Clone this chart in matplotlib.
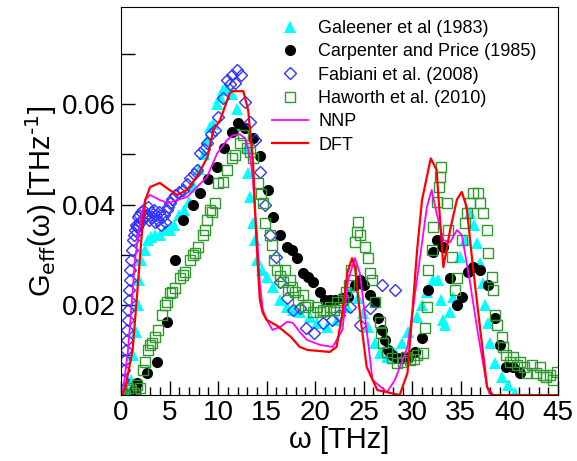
import matplotlib
matplotlib.use("Agg")
import matplotlib.pyplot as plt

plt.rcParams['font.family'] = ['Liberation Sans', 'DejaVu Sans']

# Galeener et al (1983)
gal_x = [0.2, 0.6, 1.0, 1.2, 1.5, 1.7, 1.85, 2.1, 2.5, 2.8, 3.1, 3.5, 4.0, 4.5, 5.0, 5.5, 6.0,
         6.5, 7.0, 7.5, 8.0, 8.5, 8.9, 9.2, 9.5, 9.9, 10.2, 10.5, 10.9, 11.4, 11.9, 12.4, 13.0,
         13.1, 13.3, 13.6, 13.8, 14.0, 14.5, 15.0, 15.7, 16.4, 17.1, 17.7, 18.4, 19.5, 20.2,
         21.2, 22.2, 23.3, 23.8, 24.4, 24.9, 25.4, 26.2, 26.7, 27.4, 28.2, 28.9, 29.6, 30.5,
         31.0, 31.5, 32.1, 32.6, 33.0, 33.2, 33.4, 33.9, 34.2, 34.9, 35.4, 35.9, 36.4, 36.7,
         37.0, 37.3, 37.5, 37.8, 38.0, 38.5, 39.2, 39.9, 40.6]
gal_y = [0.002, 0.003, 0.005, 0.010, 0.0145, 0.020, 0.025, 0.029, 0.031, 0.033, 0.0335, 0.034,
         0.034, 0.035, 0.035, 0.036, 0.038, 0.039, 0.0405, 0.0435, 0.047, 0.050, 0.0528, 0.0554,
         0.056, 0.060, 0.0614, 0.0628, 0.0632, 0.062, 0.059, 0.056, 0.0514, 0.0463, 0.0415,
         0.0363, 0.033, 0.029, 0.027, 0.0255, 0.0235, 0.021, 0.0196, 0.019, 0.0186, 0.0176,
         0.0164, 0.0156, 0.017, 0.0196, 0.0235, 0.0213, 0.0184, 0.0156, 0.0124, 0.0104, 0.0096,
         0.0104, 0.0124, 0.0146, 0.0176, 0.020, 0.0226, 0.025, 0.025, 0.021, 0.017, 0.016,
         0.0186, 0.0215, 0.0295, 0.0329, 0.0383, 0.036, 0.0323, 0.0283, 0.0243, 0.020, 0.0164,
         0.0124, 0.0084, 0.0056, 0.004, 0.0024]

# Carpenter and Price (1985)
car_x = [1.3, 1.6, 2.7, 3.7, 4.7, 5.6, 6.4, 7.4, 8.1, 9.0, 9.9, 10.6, 11.4, 12.1, 12.8, 13.6,
         14.3, 15.1, 15.7, 16.4, 17.1, 17.6, 18.1, 18.7, 19.3, 19.8, 20.5, 21.0, 21.5, 22.0,
         22.8, 23.4, 24.1, 24.6, 25.0, 25.6, 26.2, 26.5, 26.9, 27.2, 27.5, 27.9, 28.4, 28.9,
         29.6, 30.3, 31.0, 31.6, 32.1, 32.5, 33.2, 33.9, 34.6, 35.1, 35.7, 36.2, 37.0, 37.8,
         38.5, 39.0, 39.7, 40.4, 41.1]
car_y = [0.003, 0.0045, 0.0065, 0.0085, 0.0166, 0.029, 0.037, 0.040, 0.0423, 0.045, 0.0475,
         0.0512, 0.0544, 0.0562, 0.0552, 0.0532, 0.0496, 0.0429, 0.0375, 0.0339, 0.0315, 0.0309,
         0.0293, 0.0263, 0.0255, 0.0245, 0.0225, 0.021, 0.021, 0.021, 0.0213, 0.0216, 0.024,
         0.025, 0.024, 0.022, 0.0206, 0.0174, 0.015, 0.013, 0.011, 0.010, 0.0094, 0.0094, 0.0094,
         0.0106, 0.0134, 0.023, 0.0305, 0.0329, 0.0315, 0.0253, 0.020, 0.0216, 0.0265, 0.0275,
         0.027, 0.024, 0.0174, 0.012, 0.0076, 0.0076, 0.0064]

# Fabiani et al. (2008)
fab_x = [0.05, 0.15, 0.25, 0.35, 0.45, 0.5, 0.6, 0.65, 0.7, 0.75, 0.8, 0.85, 0.9, 0.95, 1.0,
         1.1, 1.2, 1.3, 1.4, 1.5, 1.6, 1.7, 1.8, 1.9, 2.0, 2.1, 2.2, 2.3, 2.45, 2.6, 2.75, 2.9,
         3.05, 3.2, 3.35, 3.5, 3.65, 3.8, 3.95, 4.1, 4.25, 4.4, 4.55, 4.7, 4.85, 5.0, 5.3, 5.6,
         6.0, 6.4, 6.8, 7.1, 7.5, 7.8, 8.1, 8.5, 8.9, 9.3, 9.7, 10.0, 10.5, 10.9, 11.2, 11.4,
         11.7, 11.9, 12.4, 12.8, 13.3, 13.8, 14.3, 14.8, 15.3, 16.0, 16.4, 17.1, 17.7, 18.4,
         19.1, 19.9, 20.8, 21.7, 22.5, 23.6, 24.6, 25.6, 26.9, 28.2]
fab_y = [0.001, 0.003, 0.005, 0.007, 0.009, 0.011, 0.013, 0.015, 0.017, 0.019, 0.021, 0.023,
         0.025, 0.027, 0.029, 0.031, 0.033, 0.034, 0.035, 0.036, 0.0355, 0.0375, 0.036, 0.038,
         0.0365, 0.0385, 0.037, 0.039, 0.0375, 0.038, 0.0395, 0.037, 0.0385, 0.0375, 0.039,
         0.0365, 0.038, 0.037, 0.0385, 0.036, 0.0375, 0.038, 0.0365, 0.039, 0.0395, 0.0403,
         0.041, 0.0419, 0.0425, 0.0429, 0.044, 0.0453, 0.046, 0.0469, 0.0502, 0.051, 0.0522,
         0.054, 0.0548, 0.0574, 0.0612, 0.0648, 0.064, 0.0658, 0.0642, 0.0668, 0.0658, 0.0604,
         0.0564, 0.0528, 0.0465, 0.0399, 0.0339, 0.0295, 0.0245, 0.0213, 0.019, 0.0194, 0.0154,
         0.0144, 0.0164, 0.017, 0.018, 0.0196, 0.016, 0.0194, 0.024, 0.023]

# Haworth et al. (2010)
haw_x = [0.4, 0.7, 1.0, 1.3, 1.6, 2.0, 2.3, 2.5, 2.8, 3.0, 3.2, 3.5, 3.8, 4.2, 4.5, 4.7, 5.0,
         5.3, 5.6, 6.1, 6.4, 6.6, 7.1, 7.4, 7.6, 7.9, 8.4, 8.7, 8.9, 9.2, 9.4, 9.7, 10.0, 10.5,
         10.9, 11.4, 11.7, 12.25, 12.6, 13.0, 13.3, 13.6, 14.1, 14.4, 14.6, 14.8, 15.3, 15.5,
         15.8, 16.1, 16.4, 16.7, 16.9, 17.2, 17.4, 17.6, 17.9, 18.2, 18.7, 19.0, 19.3, 19.8,
         20.2, 20.5, 20.8, 21.1, 21.5, 21.9, 22.2, 22.6, 22.9, 23.2, 23.5, 23.7, 24.1, 24.3,
         24.4, 24.6, 25.1, 25.4, 25.6, 25.9, 26.2, 26.7, 26.8, 27.0, 27.4, 27.9, 28.4, 29.0,
         29.4, 29.8, 30.2, 30.5, 31.1, 31.3, 31.5, 31.6, 32.0, 32.1, 32.5, 32.8, 32.9, 33.0,
         33.6, 33.7, 34.1, 34.4, 34.6, 35.1, 35.4, 35.6, 35.9, 36.2, 36.8, 37.0, 37.3, 37.7,
         37.8, 38.2, 38.3, 38.5, 38.7, 39.2, 39.3, 39.7, 40.1, 40.4, 40.8, 41.1, 41.5, 41.8,
         42.3, 42.7, 43.1, 43.5, 43.8, 44.2, 44.5, 44.9]
haw_y = [0.002, 0.0035, 0.003, 0.0025, 0.004, 0.0034, 0.007, 0.0085, 0.011, 0.012, 0.0124,
         0.0135, 0.015, 0.018, 0.020, 0.0205, 0.0223, 0.0225, 0.0233, 0.0253, 0.026, 0.0265,
         0.029, 0.030, 0.0303, 0.0315, 0.0339, 0.035, 0.0369, 0.0389, 0.0385, 0.0403, 0.0443,
         0.0445, 0.0469, 0.0492, 0.0498, 0.0522, 0.0538, 0.0512, 0.0505, 0.0492, 0.0443, 0.042,
         0.0403, 0.0363, 0.034, 0.032, 0.029, 0.027, 0.0257, 0.0245, 0.027, 0.023, 0.025, 0.0235,
         0.0225, 0.021, 0.022, 0.0195, 0.020, 0.0186, 0.0195, 0.0185, 0.019, 0.0188, 0.0196,
         0.019, 0.0205, 0.0195, 0.021, 0.0225, 0.024, 0.027, 0.0325, 0.0345, 0.0365, 0.0339,
         0.0315, 0.0293, 0.0263, 0.025, 0.0205, 0.0166, 0.0144, 0.0124, 0.0106, 0.0094, 0.0084,
         0.0086, 0.0095, 0.009, 0.0092, 0.010, 0.0104, 0.0154, 0.0196, 0.027, 0.0309, 0.0355,
         0.0405, 0.0435, 0.0455, 0.0475, 0.0403, 0.0349, 0.0295, 0.023, 0.0253, 0.0329, 0.0363,
         0.0383, 0.0403, 0.0423, 0.0423, 0.0403, 0.0383, 0.0349, 0.0303, 0.0255, 0.023, 0.018,
         0.016, 0.0136, 0.0116, 0.010, 0.0085, 0.0096, 0.008, 0.0086, 0.0075, 0.0064, 0.008,
         0.0065, 0.0076, 0.006, 0.0056, 0.006, 0.005, 0.0066]

# NNP
nnp_x = [0.0, 0.2, 0.72, 1.13, 1.44, 1.96, 2.47, 2.99, 4.0, 4.84, 5.77, 6.8, 7.83, 8.86, 9.9,
         10.9, 11.5, 12.25, 12.8, 13.3, 13.6, 13.8, 14.0, 14.3, 14.6, 15.0, 15.6, 16.4, 17.1,
         17.7, 18.4, 19.15, 20.5, 21.8, 22.8, 23.4, 24.1, 24.6, 25.3, 25.9, 27.4, 28.2, 29.5,
         30.1, 30.8, 31.5, 32.0, 32.5, 33.2, 33.9, 34.6, 35.1, 35.9, 36.7, 37.7, 38.0, 45.0]
nnp_y = [0.002, 0.0025, 0.011, 0.0209, 0.0289, 0.0363, 0.0409, 0.0419, 0.0409, 0.0403, 0.0409,
         0.0415, 0.0435, 0.0455, 0.0502, 0.0528, 0.0538, 0.054, 0.0532, 0.0494, 0.0449, 0.0383,
         0.0343, 0.0243, 0.019, 0.017, 0.015, 0.0156, 0.0166, 0.0164, 0.0146, 0.013, 0.012, 0.0116,
         0.015, 0.025, 0.0293, 0.0263, 0.015, 0.005, 0.0026, 0.005, 0.0116, 0.0196, 0.0295,
         0.0395, 0.0429, 0.0383, 0.0329, 0.0325, 0.0349, 0.0339, 0.025, 0.015, 0.0036, 0.002,
         0.002]

# DFT
dft_x = [0.0, 0.4, 1.2, 1.75, 2.15, 2.5, 3.0, 4.0, 5.0, 5.8, 6.8, 7.8, 8.9, 9.5, 10.2, 11.2,
         11.5, 12.6, 13.1, 13.6, 13.9, 14.1, 14.3, 14.6, 15.0, 16.1, 17.5, 18.4, 19.2, 21.5,
         22.2, 22.8, 23.3, 23.8, 24.1, 24.6, 25.3, 26.4, 28.7, 29.5, 30.0, 30.5, 31.0, 31.9,
         32.5, 33.2, 33.9, 34.6, 35.1, 35.6, 36.2, 37.0, 37.7, 38.3, 45.0]
dft_y = [0.002, 0.003, 0.011, 0.0243, 0.0343, 0.0409, 0.0435, 0.0443, 0.0429, 0.0419, 0.0429,
         0.0455, 0.0494, 0.0548, 0.0568, 0.0622, 0.0626, 0.0626, 0.0588, 0.0482, 0.0349, 0.0275,
         0.021, 0.0184, 0.017, 0.0158, 0.0136, 0.0116, 0.011, 0.0106, 0.0116, 0.0184, 0.0263,
         0.0293, 0.0275, 0.0184, 0.0076, 0.003, 0.002, 0.0064, 0.0184, 0.031, 0.0409, 0.0492,
         0.0469, 0.0275, 0.035, 0.041, 0.0425, 0.0395, 0.0283, 0.015, 0.0036, 0.002, 0.002]

fig = plt.figure(figsize=(5.77, 4.61), dpi=100)
ax = fig.add_axes([0.2097, 0.143, 0.7573, 0.842])

ax.plot(gal_x, gal_y, '^', color='#00ffff', markersize=8, markeredgewidth=0,
        linestyle='none', label='Galeener et al (1983)')
ax.plot(car_x, car_y, 'o', color='black', markersize=8, markeredgewidth=0,
        linestyle='none', label='Carpenter and Price (1985)')
ax.plot(fab_x, fab_y, 'D', markerfacecolor='none', markeredgecolor='#3333ff', markersize=6,
        markeredgewidth=1, linestyle='none', label='Fabiani et al. (2008)')
ax.plot(haw_x, haw_y, 's', markerfacecolor='none', markeredgecolor='#2e9a2e', markersize=7,
        markeredgewidth=1, linestyle='none', label='Haworth et al. (2010)')
ax.plot(nnp_x, nnp_y, color='#ff00ff', linewidth=1.3, label='NNP')
ax.plot(dft_x, dft_y, color='#ff0000', linewidth=1.6, label='DFT')

ax.set_xlim(0, 45)
ax.set_ylim(0.002, 0.0794)
ax.set_xticks(range(0, 46, 5))
ax.set_xticks(range(0, 46, 1), minor=True)
ax.set_yticks([0.02, 0.04, 0.06])
ax.set_yticks([0.01, 0.03, 0.05, 0.07], minor=True)
ax.tick_params(axis='both', which='both', direction='in', labelsize=20, width=1)
ax.tick_params(axis='x', which='major', length=10)
ax.tick_params(axis='x', which='minor', length=6)
ax.tick_params(axis='y', which='both', length=10)

ax.set_xlabel('ω [THz]', fontsize=21, labelpad=0)
ax.set_ylabel(r'G$_{\mathrm{eff}}$(ω) [THz$^{\text{-1}}$]', fontsize=21, labelpad=2)

ax.legend(loc='upper left', bbox_to_anchor=(0.329, 0.985), frameon=False, fontsize=13,
          handlelength=2.0, handletextpad=0.55, labelspacing=0.35, borderaxespad=0.2,
          borderpad=0.2, numpoints=1)

fig.savefig('out.png', dpi=100)
